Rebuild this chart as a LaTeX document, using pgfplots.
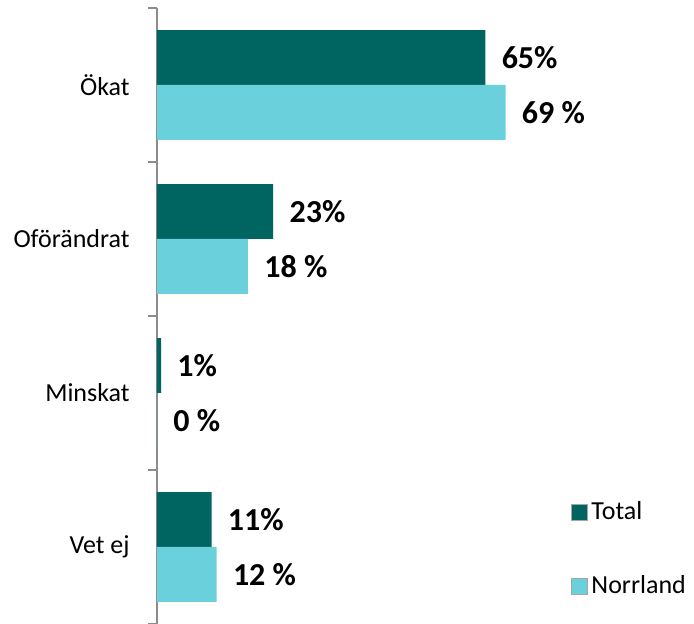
\documentclass[border=0pt]{standalone}
\usepackage{fontspec}
\setmainfont{Carlito}
\usepackage{pgfplots}
\pgfplotsset{compat=1.18}
\definecolor{total}{HTML}{006461}
\definecolor{norr}{HTML}{6AD1DC}
\definecolor{axgray}{HTML}{8C8C8C}
\begin{document}
\begin{tikzpicture}
\begin{axis}[
  at={(0,0)}, anchor=south west,
  scale only axis, width=268.5pt, height=308pt,
  xmin=0, xmax=106.3, ymin=-0.5, ymax=3.5,
  xbar, bar width=0.357,
  hide x axis,
  axis y line*=left,
  y axis line style={axgray, line width=1pt},
  ytick={0,1,2,3},
  yticklabels={Vet ej, Minskat, Oförändrat, Ökat},
  major tick length=0pt,
  minor ytick={-0.5,0.5,1.5,2.5,3.5},
  minor tick length=4.5pt,
  tick align=outside,
  minor tick style={axgray, line width=1pt},
  yticklabel style={font=\fontsize{13}{15}\selectfont, inner sep=0pt, xshift=-13.5pt, anchor=east},
  point meta=explicit symbolic,
  nodes near coords,
  nodes near coords style={anchor=west, inner sep=0pt, xshift=8pt, font=\fontsize{16}{18}\selectfont\bfseries, text=black},
  legend image code/.code={\draw[#1, draw=black!35, line width=0.3pt] (0pt,-4pt) rectangle (8pt,4pt);},
  legend style={draw=none, fill=none, at={(0.770,0.206)}, anchor=north west, inner sep=0pt,
    font=\fontsize{13}{15}\selectfont, row sep=22.5pt},
  legend cell align=left,
]
\addplot[fill=total, draw=none, bar shift=0.1785] coordinates {
  (65,3) [65\%]
  (23,2) [23\%]
  (0.8,1) [1\%]
  (10.8,0) [11\%]
};
\addlegendentry{Total}
\addplot[fill=norr, draw=none, bar shift=-0.1785] coordinates {
  (69,3) [69 \%]
  (18,2) [18 \%]
  (0,1) [0 \%]
  (11.8,0) [12 \%]
};
\addlegendentry{Norrland}
\end{axis}
\pgfresetboundingbox
\useasboundingbox (-78.5pt,0pt) rectangle (268.5pt,312pt);
\end{tikzpicture}
\end{document}
